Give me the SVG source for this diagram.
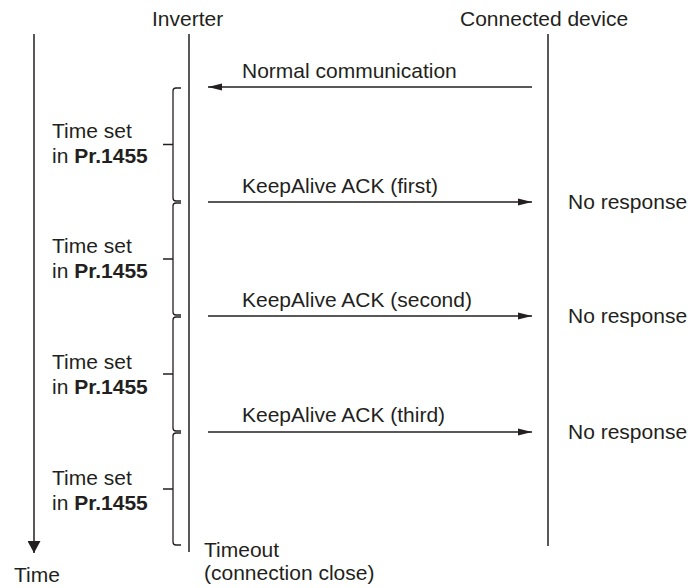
<svg xmlns="http://www.w3.org/2000/svg" width="688" height="588" viewBox="0 0 688 588">
<style>
text{font-family:"Liberation Sans",Arial,sans-serif;font-size:21px;fill:#231f20}
.b{font-weight:bold}
.life{stroke:#231f20;stroke-width:1.5;fill:none}
.msg{stroke:#231f20;stroke-width:1.3;fill:none}
.brace{stroke:#231f20;stroke-width:1.3;fill:none}
</style>
<defs>
<marker id="ah" markerWidth="14" markerHeight="8" refX="14" refY="4" orient="auto" markerUnits="userSpaceOnUse">
<path d="M0,0.5 L14,4 L0,7.5 Z" fill="#231f20"/>
</marker>
<marker id="tah" markerWidth="14" markerHeight="13" refX="12" refY="6.5" orient="auto" markerUnits="userSpaceOnUse">
<path d="M0,0 L12,6.5 L0,13 Z" fill="#231f20"/>
</marker>
</defs>
<g id="time-axis">
<line class="life" x1="34" y1="34" x2="34" y2="553" marker-end="url(#tah)"/>
<text x="14" y="582">Time</text>
</g>
<g id="inverter">
<text x="152" y="26">Inverter</text>
<line class="life" x1="189" y1="34" x2="189" y2="552"/>
<text x="204" y="557">Timeout</text>
<text x="204" y="580">(connection close)</text>
</g>
<g id="connected-device">
<text x="460" y="26">Connected device</text>
<line class="life" x1="548" y1="34" x2="548" y2="546"/>
</g>
<g id="interval1">
<path class="brace" d="M181,88 L176,88 Q173,88 173,91 L173,198 Q173,201 176,201 L181,201 M173,144.5 L163,144.5"/>
<text x="52" y="138">Time set</text>
<text x="52" y="163">in <tspan class="b">Pr.1455</tspan></text>
</g>
<g id="interval2">
<path class="brace" d="M181,203 L176,203 Q173,203 173,206 L173,312 Q173,315 176,315 L181,315 M173,259 L163,259"/>
<text x="52" y="253">Time set</text>
<text x="52" y="278">in <tspan class="b">Pr.1455</tspan></text>
</g>
<g id="interval3">
<path class="brace" d="M181,317 L176,317 Q173,317 173,320 L173,428 Q173,431 176,431 L181,431 M173,374 L163,374"/>
<text x="52" y="369">Time set</text>
<text x="52" y="394">in <tspan class="b">Pr.1455</tspan></text>
</g>
<g id="interval4">
<path class="brace" d="M181,433 L176,433 Q173,433 173,436 L173,542 Q173,545 176,545 L181,545 M173,489 L163,489"/>
<text x="52" y="485">Time set</text>
<text x="52" y="510">in <tspan class="b">Pr.1455</tspan></text>
</g>
<g id="responses">
<text x="568" y="209">No response</text>
<text x="568" y="323">No response</text>
<text x="568" y="439">No response</text>
</g>
<g id="connectors">
<line class="msg" x1="532" y1="87" x2="208" y2="87" marker-end="url(#ah)"/>
<text x="242" y="78">Normal communication</text>
<line class="msg" x1="208" y1="202" x2="532" y2="202" marker-end="url(#ah)"/>
<text x="242" y="193">KeepAlive ACK (first)</text>
<line class="msg" x1="208" y1="316" x2="532" y2="316" marker-end="url(#ah)"/>
<text x="242" y="307">KeepAlive ACK (second)</text>
<line class="msg" x1="208" y1="432" x2="532" y2="432" marker-end="url(#ah)"/>
<text x="242" y="422">KeepAlive ACK (third)</text>
</g>
</svg>
